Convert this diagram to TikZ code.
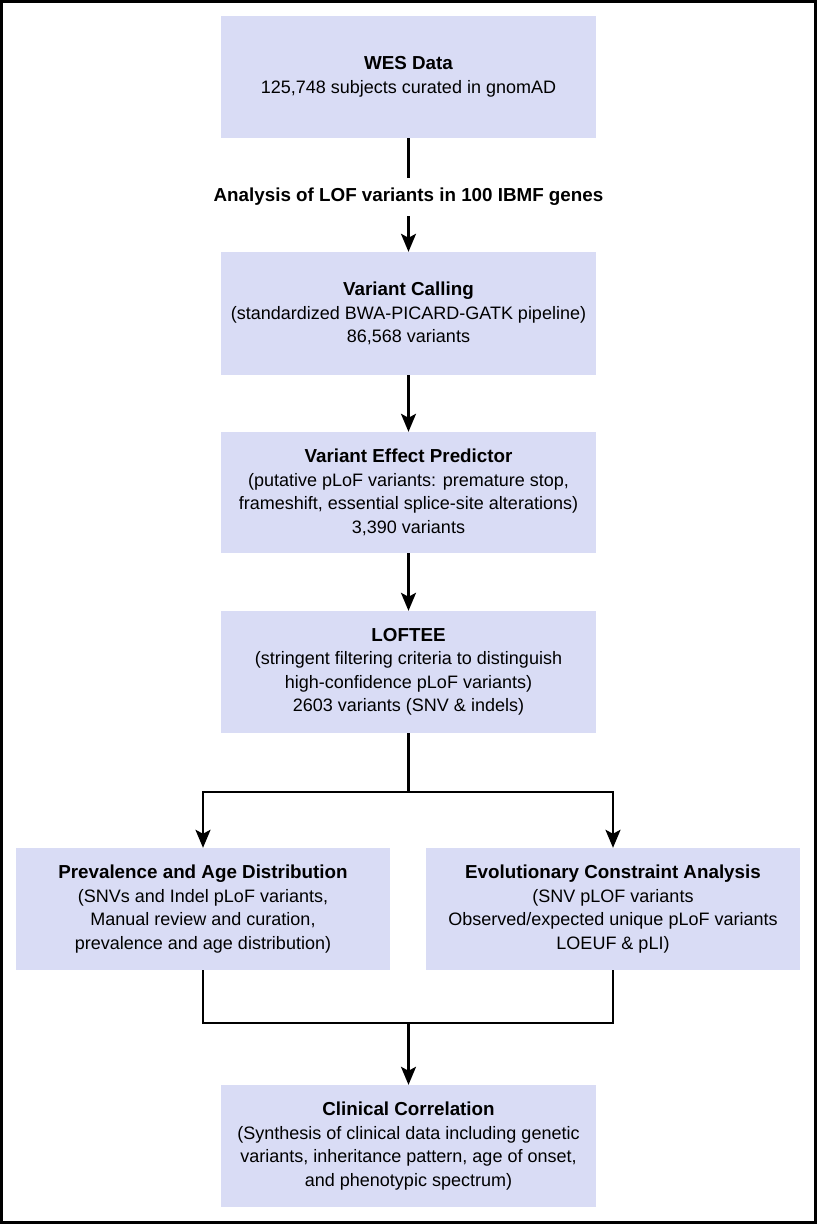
\documentclass[tikz,border=0pt]{standalone}
\usepackage{fontspec}
\setmainfont{Liberation Sans}
\usetikzlibrary{arrows.meta}
\definecolor{boxfill}{RGB}{217,220,245}
\newcommand{\hd}[1]{{\fontsize{18.8}{23.5}\selectfont\bfseries #1}}
\begin{document}
\begin{tikzpicture}[x=1pt,y=-1pt,
  box/.style={fill=boxfill,draw=none,minimum width=375pt,minimum height=122pt,align=center,inner sep=0pt,font=\fontsize{18}{23.5}\selectfont},
  conn/.style={line width=2.5pt,black},
  arr/.style={conn,-{Stealth[length=18pt,width=15pt,inset=4pt]}},
  lbl/.style={font=\fontsize{18.8}{23.5}\selectfont\bfseries,inner sep=0pt}]
\useasboundingbox (0,0) rectangle (817,1224);
\draw[line width=3pt] (1.5,1.5) rectangle (815.5,1222.5);
\node[box] (b1) at (408.5,77) {\hd{WES Data}\\125,748 subjects curated in gnomAD};
\node[lbl] (lab) at (408.5,197) {Analysis of LOF variants in 100 IBMF genes};
\node[box,minimum height=123pt] (b2) at (408.5,313.5) {\hd{Variant Calling}\\(standardized BWA-PICARD-GATK pipeline)\\86,568 variants};
\node[box,minimum height=121pt] (b3) at (408.5,492.5) {\hd{Variant Effect Predictor}\\(putative pLoF variants: premature stop,\\frameshift, essential splice-site alterations)\\3,390 variants};
\node[box] (b4) at (408.5,672) {\hd{LOFTEE}\\(stringent filtering criteria to distinguish\\high-confidence pLoF variants)\\2603 variants (SNV \& indels)};
\node[box,minimum width=374pt] (b5) at (203,909) {\hd{Prevalence and Age Distribution}\\(SNVs and Indel pLoF variants,\\Manual review and curation,\\prevalence and age distribution)};
\node[box,minimum width=374pt] (b6) at (613,909) {\hd{Evolutionary Constraint Analysis}\\(SNV pLOF variants\\Observed/expected unique pLoF variants\\LOEUF \& pLI)};
\node[box] (b7) at (408.5,1146) {\hd{Clinical Correlation}\\(Synthesis of clinical data including genetic\\variants, inheritance pattern, age of onset,\\and phenotypic spectrum)};
\coordinate (j1) at (408.5,792);
\coordinate (j2) at (408.5,1023);
\draw[conn] (b1) -- ([yshift=10pt]lab.north);
\draw[arr] ([yshift=-10pt]lab.south) -- (b2);
\draw[arr] (b2) -- (b3);
\draw[arr] (b3) -- (b4);
\draw[conn] (b4) -- (j1);
\draw[arr] (j1) -| (b5);
\draw[arr] (j1) -| (b6);
\draw[conn] (b5) |- (j2);
\draw[conn] (b6) |- (j2);
\draw[arr] (j2) -- (b7);
\end{tikzpicture}
\end{document}
